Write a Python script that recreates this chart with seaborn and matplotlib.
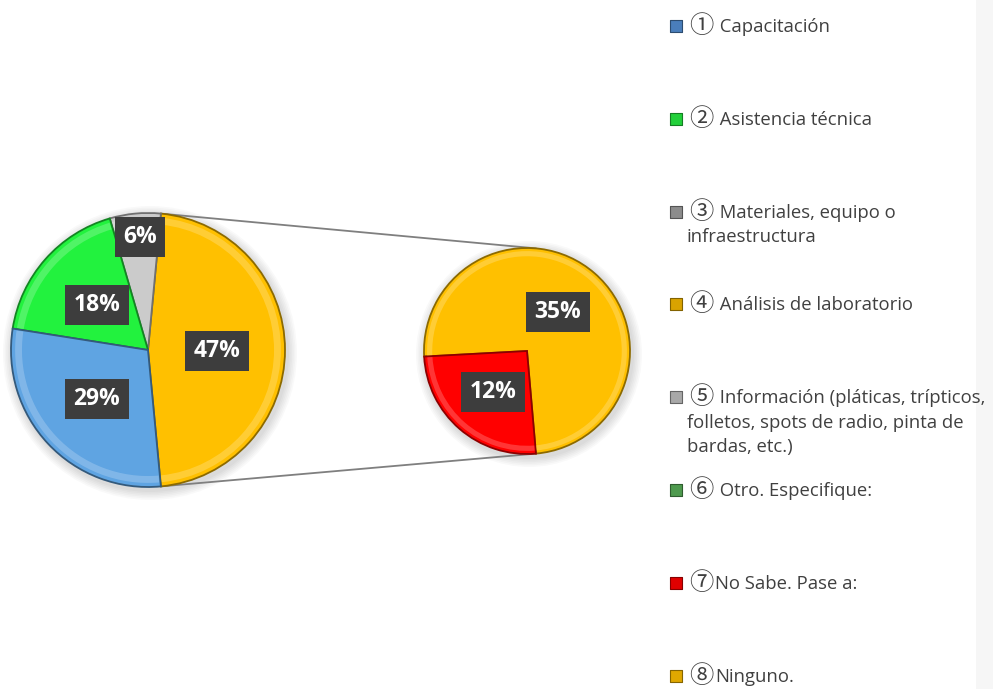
import numpy as np
import matplotlib
matplotlib.use("Agg")
import matplotlib.pyplot as plt
import seaborn as sns
from matplotlib.colors import to_rgb
from matplotlib.patches import Wedge

# main pie: the aggregated slice (47%) is split in the second pie
main_values = [47, 6, 18, 29]
main_colors = ["#FFC000", "#CBCBCB", "#22F23E", "#5FA4E2"]
sub_values = [35, 12]
sub_colors = ["#FFC000", "#FF0000"]

legend_labels = [
    "\u2460 Capacitación",
    "\u2461 Asistencia técnica",
    "\u2462 Materiales, equipo o\ninfraestructura",
    "\u2463 Análisis de laboratorio",
    "\u2464 Información (pláticas, trípticos,\nfolletos, spots de radio, pinta de\nbardas, etc.)",
    "\u2465 Otro. Especifique:",
    "\u2466No Sabe. Pase a:",
    "\u2467Ninguno.",
]
legend_colors = ["#4A7EBB", "#22D03A", "#8C8C8C", "#D9A300",
                 "#A8A8A8", "#4E9A4E", "#E00000", "#E0A800"]

W, H = 993, 689


def Y(y):
    # image row -> axis y
    return H - y


def darker(c, f=0.55):
    r, g, b = to_rgb(c)
    return (r * f, g * f, b * f)


def lighter(c, f=0.35):
    r, g, b = to_rgb(c)
    return (r + (1 - r) * f, g + (1 - g) * f, b + (1 - b) * f)


sns.set_theme(style="white")
plt.rcParams["font.family"] = ["Open Sans", "DejaVu Sans"]

fig = plt.figure(figsize=(9.93, 6.89), dpi=100)
ax = fig.add_axes([0, 0, 1, 1])

main_c, main_r = (148, Y(350)), 137
sub_c, sub_r = (527, Y(351)), 103

# soft shadow under both pies
for c, r in [(main_c, main_r), (sub_c, sub_r)]:
    for k in range(6):
        ax.add_patch(plt.Circle((c[0] + 2, c[1] - 3), r + 2 + k * 1.6,
                                color="#000000", alpha=0.025, lw=0, zorder=0))

start_main = -main_values[0] / sum(main_values) * 180
wedges_main, _ = ax.pie(main_values, colors=main_colors, startangle=start_main,
                        center=main_c, radius=main_r, frame=True,
                        wedgeprops=dict(linewidth=1.3))
wedges_sub, _ = ax.pie(sub_values, colors=sub_colors, startangle=-85,
                       center=sub_c, radius=sub_r, frame=True,
                       wedgeprops=dict(linewidth=1.3))

# bevel look: darker outline, lighter inner rim
for wl, c, r in [(wedges_main, main_c, main_r), (wedges_sub, sub_c, sub_r)]:
    for w in wl:
        fc = w.get_facecolor()
        w.set_edgecolor(darker(fc[:3]))
        w.set_zorder(2)
        ax.add_patch(Wedge(c, r * 0.97, w.theta1 + 0.6, w.theta2 - 0.6,
                           width=r * 0.05, facecolor=lighter(fc[:3], 0.3),
                           edgecolor="none", alpha=0.7, zorder=3))

# connector lines between the pies
agg = wedges_main[0]
for a_main, a_sub in [(agg.theta2, 85), (agg.theta1, -85)]:
    p1 = (main_c[0] + main_r * np.cos(np.radians(a_main)),
          main_c[1] + main_r * np.sin(np.radians(a_main)))
    p2 = (sub_c[0] + sub_r * np.cos(np.radians(a_sub)),
          sub_c[1] + sub_r * np.sin(np.radians(a_sub)))
    ax.plot([p1[0], p2[0]], [p1[1], p2[1]], color="#7F7F7F", lw=1.3, zorder=1)

# data labels
main_pos = [(217, 351), (140, 237), (97, 305), (97, 399)]
sub_pos = [(558, 312), (493, 392)]
for vals, pos in [(main_values, main_pos), (sub_values, sub_pos)]:
    for v, (x, y) in zip(vals, pos):
        ax.text(x, Y(y), f"{v}%", ha="center", va="center", fontsize=16.5,
                fontweight="bold", color="white", zorder=5,
                bbox=dict(boxstyle="square,pad=0.36", fc="#3D3D3D", ec="none"))

# legend (drawn by hand, Excel-style spacing)
for i, (lab, col) in enumerate(zip(legend_labels, legend_colors)):
    yy = 26 + i * 92.8
    ax.scatter([676], [Y(yy)], marker="s", s=75, color=col,
               edgecolor=darker(col, 0.6), linewidth=0.8, zorder=4)
    ax.text(701, Y(yy), lab[0], ha="center", va="center", fontsize=17.5,
            family=["Noto Sans CJK JP", "DejaVu Sans"], color="#404040",
            zorder=4)
    lines = lab[1:].split("\n")
    for k, line in enumerate(lines):
        x0 = 715 if k == 0 else 687
        ax.text(x0, Y(yy + 6 + k * 24.5), line, ha="left", va="baseline",
                fontsize=13.3, color="#404040", zorder=4)

ax.axvspan(976, W, color="#F6F6F6", lw=0, zorder=0)

ax.set_xlim(0, W)
ax.set_ylim(0, H)
ax.set_aspect("equal")
ax.axis("off")

fig.savefig("out.png", dpi=100, facecolor="white")
